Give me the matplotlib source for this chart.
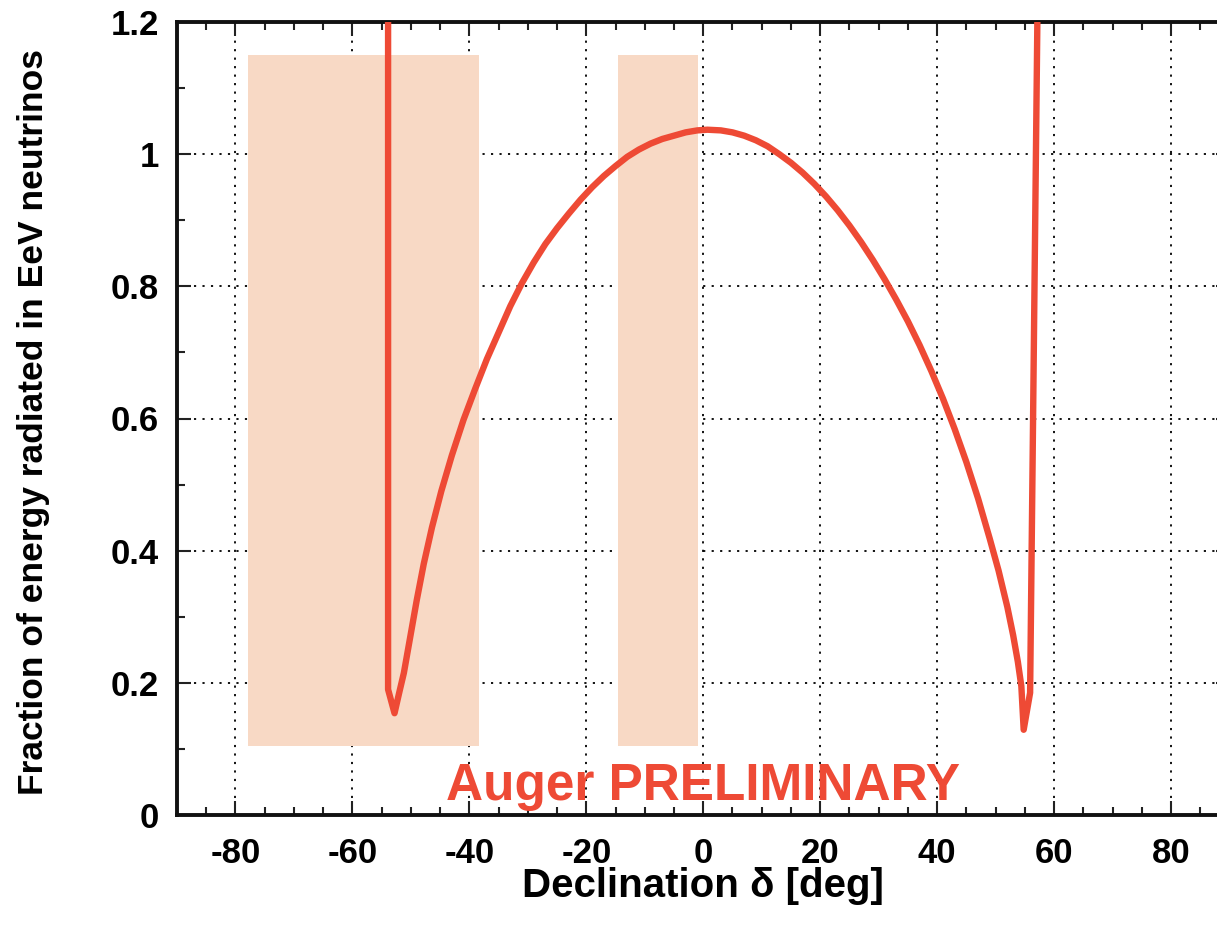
import matplotlib
matplotlib.use("Agg")
import matplotlib.pyplot as plt
from matplotlib.ticker import MultipleLocator
from matplotlib.patches import Rectangle

plt.rcParams['font.family'] = ['Liberation Sans', 'DejaVu Sans']
plt.rcParams['font.weight'] = 'bold'
plt.rcParams['axes.unicode_minus'] = False

# Curve: declination [deg] vs fraction of energy
decl = [-53.9, -53.9, -52.8, -52.0, -51.2, -50.2, -49.0, -47.8, -46.4, -44.8,
        -43.0, -41.0, -39.0, -37.0, -35.0, -33.0, -31.0, -29.0, -27.0, -25.0,
        -23.0, -21.0, -19.0, -17.0, -15.0, -13.0, -11.0, -9.0, -7.0, -5.0,
        -3.0, -1.0, 0.7, 3.0, 5.0, 7.0, 9.0, 11.0, 13.0, 15.0,
        17.0, 19.0, 21.0, 23.0, 25.0, 27.0, 29.0, 31.0, 33.0, 35.0,
        37.0, 39.0, 41.0, 43.0, 45.0, 47.0, 49.0, 50.5, 52.0, 53.0,
        53.8, 54.4, 54.8, 55.9, 57.2]
frac = [1.25, 0.19, 0.154, 0.185, 0.215, 0.265, 0.325, 0.380, 0.435, 0.490,
        0.544, 0.598, 0.645, 0.690, 0.730, 0.770, 0.805, 0.836, 0.864, 0.888,
        0.910, 0.931, 0.950, 0.967, 0.982, 0.996, 1.007, 1.016, 1.023, 1.028,
        1.033, 1.036, 1.037, 1.036, 1.033, 1.028, 1.021, 1.012, 1.000, 0.987,
        0.972, 0.955, 0.936, 0.915, 0.892, 0.867, 0.840, 0.811, 0.780, 0.747,
        0.711, 0.672, 0.630, 0.584, 0.534, 0.479, 0.418, 0.370, 0.315, 0.272,
        0.232, 0.195, 0.129, 0.185, 1.25]

# Shaded declination bands: (start, end)
band_start = [-77.8, -14.5]
band_end = [-38.3, -0.9]
band_low = 0.105
band_high = 1.15

xticks = [-80, -60, -40, -20, 0, 20, 40, 60, 80]
xticklabels = ['-80', '-60', '-40', '-20', '0', '20', '40', '60', '80']
yticks = [0, 0.2, 0.4, 0.6, 0.8, 1.0, 1.2]
yticklabels = ['0', '0.2', '0.4', '0.6', '0.8', '1', '1.2']

line_color = '#EE4A35'
band_color = '#F8D9C5'

fig = plt.figure(figsize=(12.17, 9.27), dpi=100)
ax = fig.add_axes([177/1217, 1 - 815/927, (1229.5 - 177)/1217, (815 - 22)/927])

for s, e in zip(band_start, band_end):
    ax.add_patch(Rectangle((s, band_low), e - s, band_high - band_low,
                           facecolor=band_color, edgecolor='none', zorder=1))

ax.plot(decl, frac, color=line_color, lw=4.6, zorder=3,
        solid_joinstyle='round', solid_capstyle='butt')

ax.set_xlim(-90, 90)
ax.set_ylim(0, 1.2)
ax.set_xticks(xticks)
ax.set_xticklabels(xticklabels)
ax.set_yticks(yticks)
ax.set_yticklabels(yticklabels)
ax.xaxis.set_minor_locator(MultipleLocator(5))
ax.yaxis.set_minor_locator(MultipleLocator(0.1))

ax.set_axisbelow(True)
ax.grid(True, which='major', color='black', linestyle=(0, (1.2, 3.5)), linewidth=1.3)

ax.tick_params(which='both', direction='in', top=True, right=True, width=1.5, color='#222222')
ax.tick_params(which='major', length=10, labelsize=25)
ax.tick_params(axis='x', which='major', pad=16)
ax.tick_params(axis='y', which='major', pad=13)
ax.tick_params(which='minor', length=6)
for lab in ax.get_xticklabels() + ax.get_yticklabels():
    lab.set_fontweight('bold')

for sp in ax.spines.values():
    sp.set_linewidth(2.8)
    sp.set_color('#111111')

ax.set_xlabel('Declination δ [deg]', fontsize=29, fontweight='bold', labelpad=-2)
ax.set_ylabel('Fraction of energy radiated in EeV neutrinos', fontsize=25.5,
              fontweight='bold')
ax.yaxis.set_label_coords(-127/1052.5, 0.495)

ax.text(0, 0.022, 'Auger PRELIMINARY', color=line_color, fontsize=37,
        fontweight='bold', ha='center', va='baseline', zorder=4)

fig.savefig('out.png', dpi=100)
